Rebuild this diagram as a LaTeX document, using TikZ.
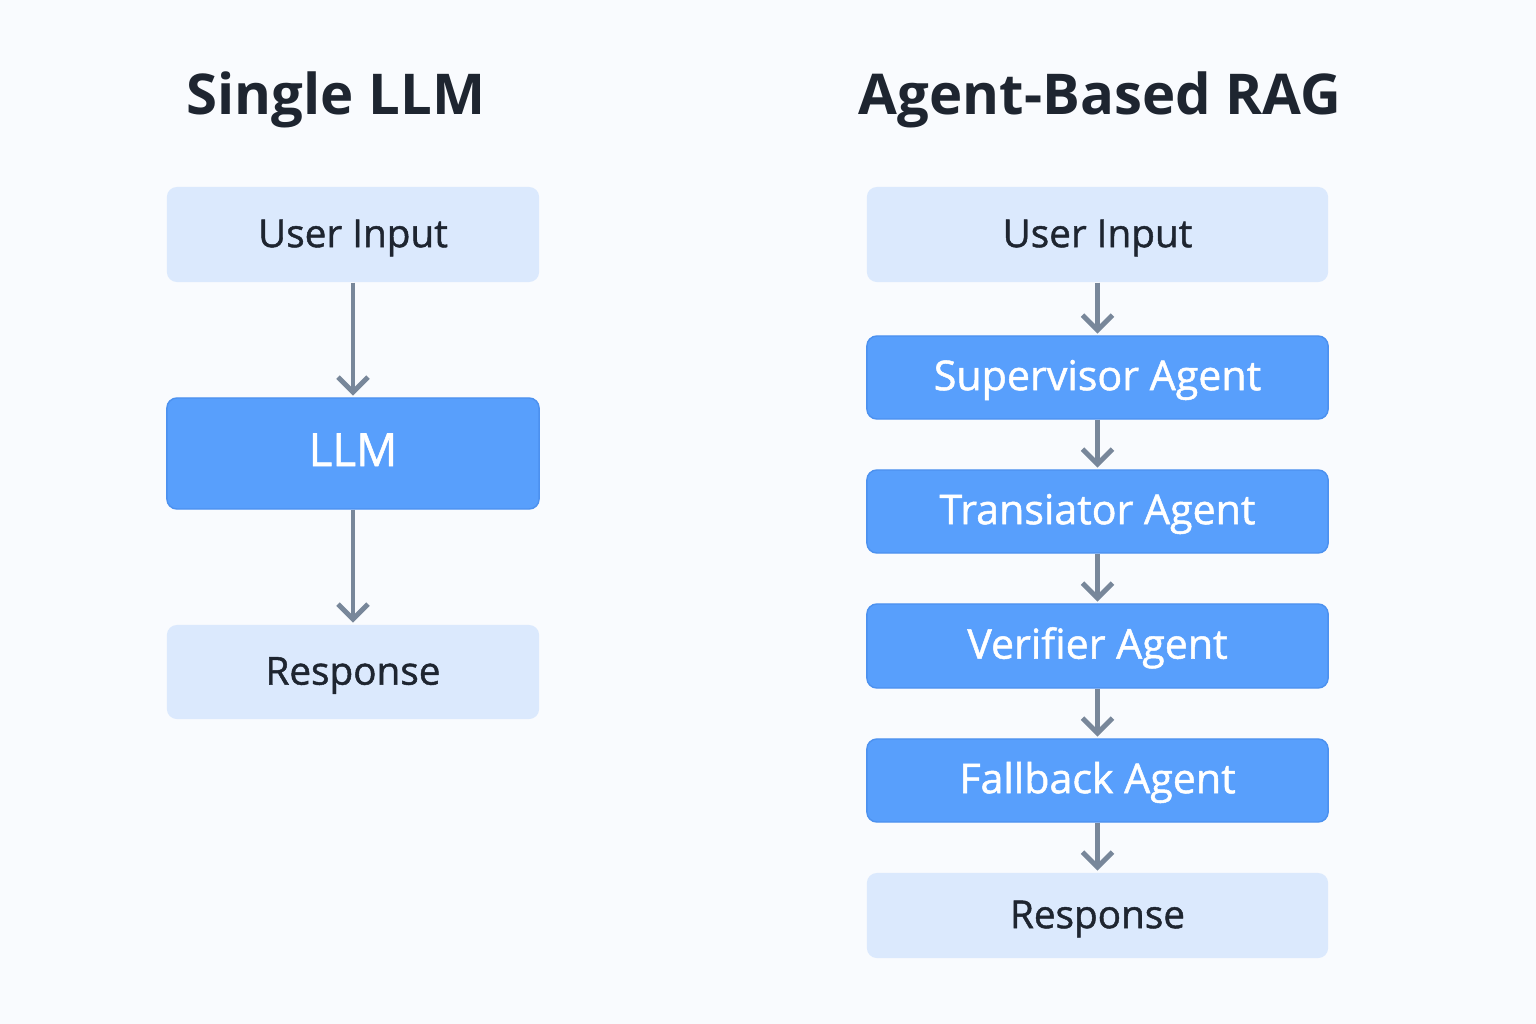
\documentclass[tikz,border=0pt]{standalone}
\usepackage{fontspec}
\setmainfont{Open Sans}
\newfontfamily\boxfont[FakeBold=1.2]{Open Sans}
\usepackage{xcolor}
\usetikzlibrary{arrows.meta}
\definecolor{pagebg}{HTML}{F9FBFE}
\definecolor{lightbox}{HTML}{DBE9FD}
\definecolor{darkbox}{HTML}{589FFC}
\definecolor{darkedge}{HTML}{4C91EF}
\definecolor{flowline}{HTML}{78879A}
\definecolor{inktext}{HTML}{1E2530}
\tikzset{>={Straight Barb[length=1.5mm,width=3mm]}, x=0.01cm, y=-0.01cm}
\tikzset{
  heading/.style={text=inktext, font=\fontsize{16}{20}\selectfont\bfseries},
  lightstep/.style={fill=lightbox, rounded corners=1mm, inner sep=0pt, text height=0.72em, text depth=0pt, text=inktext, font=\boxfont\fontsize{11}{13}\selectfont},
  agentstep/.style={fill=darkbox, draw=darkedge, line width=0.4pt, rounded corners=1mm, inner sep=0pt, text height=0.72em, text depth=0pt, text=white, font=\boxfont\fontsize{11.7}{13}\selectfont},
  flow/.style={->, draw=flowline, line width=1.4pt, shorten >=0.5pt}
}
\begin{document}
\begin{tikzpicture}
\fill [pagebg] (0,0) rectangle (1536,1024);
\useasboundingbox (0,0) rectangle (1536,1024);
% left column
\node [heading] (singletitle) at (336,100) {Single LLM};
\node [lightstep, minimum width=3.72cm, minimum height=0.95cm] (sinput) at (353,234.5) {User Input};
\node [agentstep, minimum width=3.72cm, minimum height=1.11cm, font=\boxfont\fontsize{13}{16}\selectfont] (llm) at (353,453.5) {LLM};
\node [lightstep, minimum width=3.72cm, minimum height=0.94cm] (sresponse) at (353,672) {Response};
\draw [flow] (sinput) -- (llm);
\draw [flow] (llm) -- (sresponse);
% right column
\node [heading] (agenttitle) at (1100,100) {Agent-Based RAG};
\node [lightstep, minimum width=4.61cm, minimum height=0.95cm] (ainput) at (1097.5,234.5) {User Input};
\node [agentstep, minimum width=4.61cm, minimum height=0.83cm] (supervisor) at (1097.5,377.5) {Supervisor Agent};
\node [agentstep, minimum width=4.61cm, minimum height=0.83cm] (translator) at (1097.5,511.5) {Transiator Agent};
\node [agentstep, minimum width=4.61cm, minimum height=0.84cm] (verifier) at (1097.5,646) {Verifier Agent};
\node [agentstep, minimum width=4.61cm, minimum height=0.83cm] (fallback) at (1097.5,780.5) {Fallback Agent};
\node [lightstep, minimum width=4.61cm, minimum height=0.85cm] (aresponse) at (1097.5,915.5) {Response};
\draw [flow] (ainput) -- (supervisor);
\draw [flow] (supervisor) -- (translator);
\draw [flow] (translator) -- (verifier);
\draw [flow] (verifier) -- (fallback);
\draw [flow] (fallback) -- (aresponse);
\end{tikzpicture}
\end{document}
